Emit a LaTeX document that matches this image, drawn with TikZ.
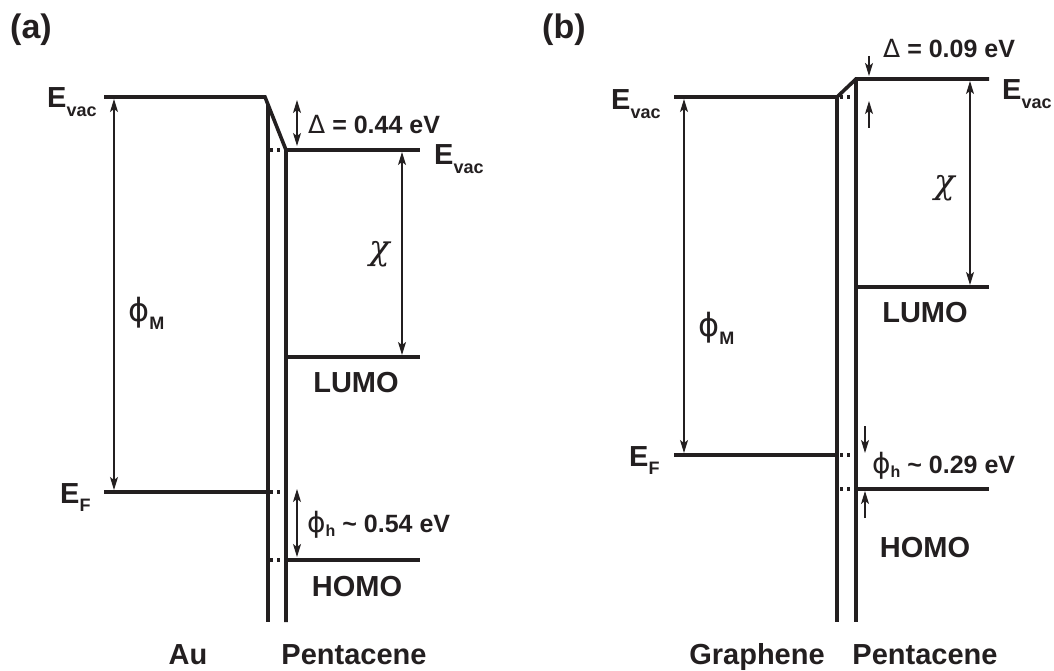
\documentclass[tikz,border=0pt]{standalone}
\usepackage{fontspec}
\setmainfont{Liberation Sans}
\newfontfamily\grk{DejaVu Sans}
\newfontfamily\grkserif{DejaVu Serif}
\usetikzlibrary{arrows.meta}
\definecolor{ink}{HTML}{231F20}
\newcommand{\fs}[1]{\fontsize{#1}{#1}\selectfont}
\newcommand{\sub}[2][18]{\raisebox{-0.28em}{\fs{#1}#2}}
\newcommand{\subv}[1]{\raisebox{-0.16em}{\fs{16}#1}}
\begin{document}
\begin{tikzpicture}[x=1pt,y=-1pt,
  level/.style={line width=3.6pt, draw=ink},
  dots/.style={line width=3.4pt, draw=ink, dash pattern=on 3.4pt off 3.6pt},
  gap/.style={line width=1.3pt, draw=ink, -{Stealth[length=13pt,width=8pt,inset=3pt]}},
  dbl/.style={line width=1.3pt, draw=ink, {Stealth[length=13pt,width=8pt,inset=3pt]}-{Stealth[length=13pt,width=8pt,inset=3pt]}},
  lbl/.style={font=\bfseries\fs{29}, text=ink, inner sep=0pt},
  val/.style={font=\bfseries\fs{25}, text=ink, inner sep=0pt},
  ttl/.style={font=\bfseries\fs{34}, text=ink, inner sep=0pt},
  chi/.style={font=\grkserif\itshape\fs{34}, text=ink, inner sep=0pt}]
\useasboundingbox (0,0) rectangle (1054,671);

% ---------------- panel (a) ----------------
\coordinate (a1) at (104,97);
\coordinate (a2) at (265,97);
\coordinate (a3) at (286,150);
\coordinate (a4) at (420,150);
\coordinate (a5) at (286,622);
\coordinate (a6) at (268,104);
\coordinate (a7) at (268,622);
\coordinate (aF1) at (104,492);
\coordinate (aF2) at (268,492);
\coordinate (aL1) at (286,357);
\coordinate (aL2) at (420,357);
\coordinate (aH1) at (286,560);
\coordinate (aH2) at (420,560);
\draw[level] (a1) -- (a2) -- (a3) -- (a5);
\draw[level] (a3) -- (a4);
\draw[level] (a6) -- (a7);
\draw[level] (aF1) -- (aF2);
\draw[level] (aL1) -- (aL2);
\draw[level] (aH1) -- (aH2);
\coordinate (ad1) at (270,150); \coordinate (ad2) at (284,150);
\coordinate (ad3) at (270,492); \coordinate (ad4) at (284,492);
\coordinate (ad5) at (270,560); \coordinate (ad6) at (284,560);
\draw[dots] (ad1) -- (ad2);
\draw[dots] (ad3) -- (ad4);
\draw[dots] (ad5) -- (ad6);
% arrows
\coordinate (aM1) at (114,99); \coordinate (aM2) at (114,490);
\draw[dbl] (aM1) -- (aM2);
\coordinate (aX1) at (402,152); \coordinate (aX2) at (402,355);
\draw[dbl] (aX1) -- (aX2);
\coordinate (aD1) at (297,100); \coordinate (aD2) at (297,146);
\draw[dbl] (aD1) -- (aD2);
\coordinate (aP1) at (297,489); \coordinate (aP2) at (297,557);
\draw[dbl] (aP1) -- (aP2);
% labels
\node[ttl, anchor=base west] (ta) at (10,39) {(a)};
\node[lbl, anchor=base west] (aEvL) at (47,108) {E\sub{vac}};
\node[lbl, anchor=base west] (aEvR) at (434,165) {E\sub{vac}};
\node[val, anchor=base west] (aDl) at (308,134) {{\mdseries\grk Δ} = 0.44 eV};
\node[chi] (aChi) at (380,254) {χ};
\node[lbl, anchor=west] (aPhiM) at (128,313) {{\mdseries\grk\fs{32}ϕ}\sub{M}};
\node[lbl] (aLUMO) at (356,383) {LUMO};
\node[lbl, anchor=base west] (aEF) at (60,503) {E\sub{F}};
\node[val, anchor=base west] (aPh) at (307,532) {{\mdseries\grk\fs{28}ϕ}\subv{h} \textasciitilde\ 0.54 eV};
\node[lbl] (aHOMO) at (357,587) {HOMO};
\node[lbl, anchor=base] (aAu) at (188,664) {Au};
\node[lbl, anchor=base] (aPent) at (354,664) {Pentacene};

% ---------------- panel (b) ----------------
\coordinate (b1) at (674,97);
\coordinate (b2) at (837,97);
\coordinate (b3) at (856,79);
\coordinate (b4) at (989,79);
\coordinate (b5) at (856,622);
\coordinate (b7) at (837,622);
\coordinate (bF1) at (674,455);
\coordinate (bF2) at (837,455);
\coordinate (bL1) at (856,287);
\coordinate (bL2) at (989,287);
\coordinate (bH1) at (856,489);
\coordinate (bH2) at (989,489);
\draw[level] (b1) -- (b2) -- (b3) -- (b4);
\draw[level] (b3) -- (b5);
\draw[level] (b2) -- (b7);
\draw[level] (bF1) -- (bF2);
\draw[level] (bL1) -- (bL2);
\draw[level] (bH1) -- (bH2);
\coordinate (bd1) at (840,97); \coordinate (bd2) at (854,97);
\coordinate (bd3) at (840,455); \coordinate (bd4) at (854,455);
\coordinate (bd5) at (840,489); \coordinate (bd6) at (854,489);
\draw[dots] (bd1) -- (bd2);
\draw[dots] (bd3) -- (bd4);
\draw[dots] (bd5) -- (bd6);
% arrows
\coordinate (bM1) at (684,99); \coordinate (bM2) at (684,453);
\draw[dbl] (bM1) -- (bM2);
\coordinate (bX1) at (970,81); \coordinate (bX2) at (970,285);
\draw[dbl] (bX1) -- (bX2);
\coordinate (bD1) at (869,56); \coordinate (bD2) at (869,76);
\draw[gap] (bD1) -- (bD2);
\coordinate (bD3) at (869,128); \coordinate (bD4) at (869,101);
\draw[gap] (bD3) -- (bD4);
\coordinate (bP1) at (865,426); \coordinate (bP2) at (865,453);
\draw[gap] (bP1) -- (bP2);
\coordinate (bP3) at (865,518); \coordinate (bP4) at (865,491);
\draw[gap] (bP3) -- (bP4);
% labels
\node[ttl, anchor=base west] (tb) at (542,39) {(b)};
\node[lbl, anchor=base west] (bEvL) at (611,110) {E\sub{vac}};
\node[lbl, anchor=base west] (bEvR) at (1002,100) {E\sub{vac}};
\node[val, anchor=base west] (bDl) at (883,58) {{\mdseries\grk Δ} = 0.09 eV};
\node[chi] (bChi) at (945,188) {χ};
\node[lbl, anchor=west] (bPhiM) at (698,328) {{\mdseries\grk\fs{32}ϕ}\sub{M}};
\node[lbl] (bLUMO) at (925,313) {LUMO};
\node[lbl, anchor=base west] (bEF) at (629,466) {E\sub{F}};
\node[val, anchor=base west] (bPh) at (872,473) {{\mdseries\grk\fs{28}ϕ}\subv{h} \textasciitilde\ 0.29 eV};
\node[lbl] (bHOMO) at (925,548) {HOMO};
\node[lbl, anchor=base] (bGr) at (757,664) {Graphene};
\node[lbl, anchor=base] (bPent) at (925,664) {Pentacene};
\end{tikzpicture}
\end{document}
